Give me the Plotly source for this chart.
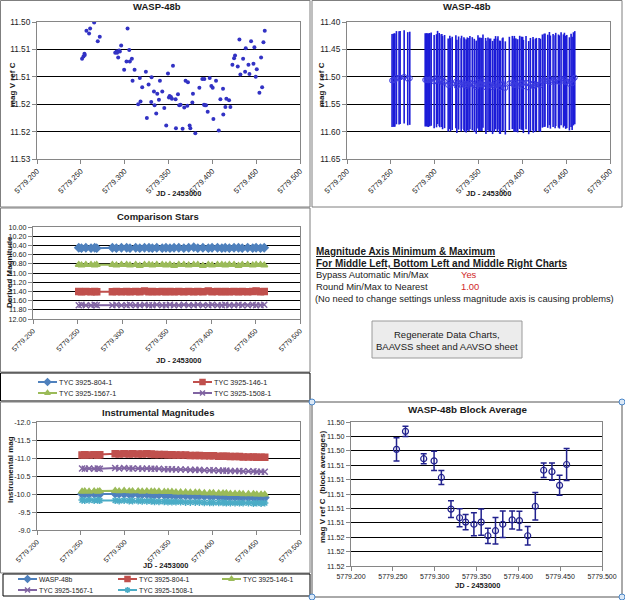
import plotly.graph_objects as go

# ---------------- data ----------------
JD = [5779.2514, 5779.2530, 5779.2541, 5779.2545, 5779.2564, 5779.2594, 5779.2606, 5779.2652, 5779.2693, 5779.2716,
      5779.2892, 5779.2907, 5779.2914, 5779.2926, 5779.2937, 5779.2945, 5779.2960, 5779.2994, 5779.3021, 5779.3033,
      5779.3052, 5779.3059, 5779.3082, 5779.3090, 5779.3113, 5779.3154, 5779.3173, 5779.3181, 5779.3200, 5779.3242,
      5779.3253, 5779.3273, 5779.3303, 5779.3307, 5779.3334, 5779.3341, 5779.3360, 5779.3372, 5779.3391, 5779.3402,
      5779.3429, 5779.3452, 5779.3474, 5779.3494, 5779.3505, 5779.3513, 5779.3528, 5779.3539, 5779.3551, 5779.3581,
      5779.3585, 5779.3608, 5779.3623, 5779.3638, 5779.3661, 5779.3680, 5779.3695, 5779.3715, 5779.3722, 5779.3741,
      5779.3749, 5779.3772, 5779.3779, 5779.3806, 5779.3852, 5779.3886, 5779.3909, 5779.3905, 5779.3916, 5779.3928,
      5779.3947, 5779.3970, 5779.3989, 5779.4004, 5779.4012, 5779.4042, 5779.4073, 5779.4092, 5779.4122, 5779.4125,
      5779.4149, 5779.4160, 5779.4191, 5779.4206, 5779.4229, 5779.4248, 5779.4259, 5779.4290, 5779.4309, 5779.4320,
      5779.4351, 5779.4374, 5779.4381, 5779.4412, 5779.4423, 5779.4442, 5779.4469, 5779.4480, 5779.4495, 5779.4507,
      5779.4537, 5779.4556, 5779.4568, 5779.4583, 5779.4598]
MAG = [11.5067, 11.5063, 11.5058, 11.5060, 11.5016, 11.5021, 11.5012, 11.5001, 11.5035, 11.5027,
       11.5056, 11.5054, 11.5056, 11.5065, 11.5052, 11.5054, 11.5043, 11.5087, 11.5072, 11.5012,
       11.5051, 11.5072, 11.5067, 11.5107, 11.5087, 11.5150, 11.5102, 11.5145, 11.5119, 11.5091,
       11.5175, 11.5114, 11.5146, 11.5101, 11.5127, 11.5152, 11.5167, 11.5131, 11.5142, 11.5107,
       11.5127, 11.5157, 11.5189, 11.5094, 11.5138, 11.5135, 11.5137, 11.5140, 11.5080, 11.5141,
       11.5194, 11.5132, 11.5152, 11.5151, 11.5195, 11.5156, 11.5107, 11.5153, 11.5110, 11.5189,
       11.5194, 11.5147, 11.5131, 11.5203, 11.5120, 11.5104, 11.5104, 11.5151, 11.5152, 11.5152,
       11.5164, 11.5102, 11.5117, 11.5120, 11.5177, 11.5107, 11.5198, 11.5141, 11.5122, 11.5169,
       11.5155, 11.5140, 11.5143, 11.5155, 11.5078, 11.5066, 11.5061, 11.5081, 11.5032, 11.5096,
       11.5067, 11.5091, 11.5048, 11.5078, 11.5095, 11.5035, 11.5076, 11.5046, 11.5100, 11.5086,
       11.5129, 11.5065, 11.5119, 11.5037, 11.5016]
MAG_ERR = 0.085

JD_C = [5779.2514, 5779.2545, 5779.2594, 5779.2652, 5779.2693, 5779.2716,
        5779.2892, 5779.2937, 5779.2994, 5779.3052, 5779.3090,
        5779.3154, 5779.3200, 5779.3253, 5779.3303, 5779.3341,
        5779.3391, 5779.3452, 5779.3494, 5779.3539, 5779.3585,
        5779.3638, 5779.3695, 5779.3749, 5779.3806, 5779.3852,
        5779.3909, 5779.3970, 5779.4012, 5779.4073, 5779.4122,
        5779.4160, 5779.4206, 5779.4259, 5779.4309, 5779.4351,
        5779.4412, 5779.4469, 5779.4507, 5779.4556, 5779.4598]

D_804 = [10.45, 10.46, 10.45, 10.46, 10.45, 10.46,
         10.45, 10.46, 10.45, 10.45, 10.46,
         10.45, 10.46, 10.45, 10.45, 10.46,
         10.45, 10.46, 10.45, 10.46, 10.45,
         10.45, 10.46, 10.45, 10.44, 10.46,
         10.45, 10.46, 10.45, 10.45, 10.46,
         10.45, 10.46, 10.45, 10.45, 10.46,
         10.45, 10.46, 10.45, 10.46, 10.45]
D_146 = [11.40, 11.41, 11.40, 11.41, 11.40, 11.41,
         11.41, 11.40, 11.41, 11.40, 11.41,
         11.40, 11.41, 11.39, 11.41, 11.40,
         11.41, 11.40, 11.41, 11.40, 11.41,
         11.40, 11.41, 11.40, 11.41, 11.40,
         11.41, 11.39, 11.41, 11.40, 11.41,
         11.40, 11.41, 11.40, 11.41, 11.40,
         11.41, 11.40, 11.39, 11.41, 11.40]
D_1567 = [10.82, 10.83, 10.82, 10.82, 10.83, 10.82,
          10.82, 10.83, 10.82, 10.82, 10.83,
          10.82, 10.84, 10.82, 10.82, 10.83,
          10.82, 10.82, 10.83, 10.82, 10.84,
          10.82, 10.82, 10.83, 10.82, 10.82,
          10.84, 10.82, 10.83, 10.82, 10.82,
          10.83, 10.82, 10.82, 10.84, 10.82,
          10.82, 10.83, 10.82, 10.82, 10.83]
D_1508 = [11.70, 11.69, 11.70, 11.70, 11.69, 11.70,
          11.70, 11.69, 11.70, 11.70, 11.69,
          11.70, 11.70, 11.69, 11.70, 11.70,
          11.69, 11.70, 11.70, 11.69, 11.70,
          11.70, 11.69, 11.70, 11.70, 11.69,
          11.70, 11.70, 11.69, 11.70, 11.70,
          11.69, 11.70, 11.70, 11.69, 11.70,
          11.70, 11.69, 11.70, 11.70, 11.69]

I_WASP = [-10.00, -10.01, -10.00, -10.01, -10.01, -10.00,
          -10.01, -10.01, -10.00, -10.00, -10.00,
          -9.99, -9.99, -9.99, -9.98, -9.98,
          -9.98, -9.97, -9.97, -9.97, -9.96,
          -9.96, -9.96, -9.95, -9.95, -9.95,
          -9.94, -9.94, -9.94, -9.93, -9.93,
          -9.93, -9.92, -9.92, -9.92, -9.91,
          -9.91, -9.91, -9.90, -9.90, -9.90]
I_804 = [-11.08, -11.09, -11.08, -11.09, -11.08, -11.09,
         -11.12, -11.11, -11.12, -11.11, -11.12,
         -11.11, -11.11, -11.12, -11.11, -11.10,
         -11.10, -11.10, -11.09, -11.09, -11.08,
         -11.08, -11.08, -11.07, -11.07, -11.07,
         -11.06, -11.06, -11.06, -11.05, -11.05,
         -11.05, -11.04, -11.04, -11.04, -11.03,
         -11.03, -11.03, -11.02, -11.02, -11.02]
I_146 = [-10.07, -10.08, -10.07, -10.08, -10.07, -10.08,
         -10.09, -10.08, -10.09, -10.08, -10.08,
         -10.08, -10.07, -10.08, -10.07, -10.07,
         -10.07, -10.06, -10.06, -10.06, -10.05,
         -10.05, -10.05, -10.04, -10.04, -10.04,
         -10.03, -10.03, -10.03, -10.02, -10.02,
         -10.02, -10.01, -10.01, -10.01, -10.00,
         -10.00, -10.00, -9.99, -9.99, -9.99]
I_1567 = [-10.71, -10.70, -10.71, -10.70, -10.71, -10.70,
          -10.72, -10.71, -10.72, -10.71, -10.71,
          -10.71, -10.70, -10.71, -10.70, -10.70,
          -10.70, -10.69, -10.69, -10.69, -10.68,
          -10.68, -10.68, -10.67, -10.67, -10.67,
          -10.66, -10.66, -10.66, -10.65, -10.65,
          -10.65, -10.64, -10.64, -10.64, -10.63,
          -10.63, -10.63, -10.62, -10.62, -10.62]
I_1508 = [-9.83, -9.82, -9.83, -9.82, -9.83, -9.82,
          -9.82, -9.81, -9.82, -9.81, -9.81,
          -9.81, -9.80, -9.80, -9.80, -9.79,
          -9.79, -9.79, -9.78, -9.78, -9.78,
          -9.78, -9.77, -9.77, -9.77, -9.77,
          -9.76, -9.76, -9.76, -9.76, -9.76,
          -9.75, -9.75, -9.75, -9.75, -9.75,
          -9.75, -9.74, -9.75, -9.74, -9.75]

BLK_JD = [5779.2544, 5779.2651, 5779.2869, 5779.2993, 5779.3080, 5779.3195, 5779.3298, 5779.3370,
          5779.3469, 5779.3556, 5779.3636, 5779.3727, 5779.3814, 5779.3926, 5779.4013, 5779.4112,
          5779.4203, 5779.4303, 5779.4402, 5779.4493, 5779.4577]
BLK_MAG = [11.5038, 11.5013, 11.5051, 11.5054, 11.5077, 11.5121, 11.5133, 11.5139,
           11.5142, 11.5139, 11.5158, 11.5151, 11.5142, 11.5136, 11.5137, 11.5158,
           11.5117, 11.5067, 11.5069, 11.5088, 11.5059]
BLK_ERR = [0.00162, 0.00072, 0.00070, 0.00134, 0.00097, 0.00116, 0.00125, 0.00106,
           0.00160, 0.00183, 0.00106, 0.00185, 0.00183, 0.00125, 0.00130, 0.00127,
           0.00190, 0.00102, 0.00120, 0.00139, 0.00222]

X_TICKS = [5779.20, 5779.25, 5779.30, 5779.35, 5779.40, 5779.45, 5779.50]
X_LABELS = ['5779.200', '5779.250', '5779.300', '5779.350', '5779.400', '5779.450', '5779.500']
Y1_TICKS = [11.500, 11.505, 11.510, 11.515, 11.520, 11.525]
Y1_LABELS = ['11.50', '11.51', '11.51', '11.52', '11.52', '11.53']
Y2_TICKS = [11.40, 11.45, 11.50, 11.55, 11.60, 11.65]
Y2_LABELS = ['11.40', '11.45', '11.50', '11.55', '11.60', '11.65']
Y3_TICKS = [10.0, 10.2, 10.4, 10.6, 10.8, 11.0, 11.2, 11.4, 11.6, 11.8, 12.0]
Y3_LABELS = ['10.00', '10.20', '10.40', '10.60', '10.80', '11.00', '11.20', '11.40', '11.60', '11.80', '12.00']
Y4_TICKS = [-12.0, -11.5, -11.0, -10.5, -10.0, -9.5, -9.0]
Y4_LABELS = ['-12.0', '-11.5', '-11.0', '-10.5', '-10.0', '-9.5', '-9.0']
Y5_TICKS = [11.500, 11.502, 11.504, 11.506, 11.508, 11.510, 11.512, 11.514, 11.516, 11.518, 11.520]
Y5_LABELS = ['11.50', '11.50', '11.50', '11.51', '11.51', '11.51', '11.51', '11.51', '11.52', '11.52', '11.52']

# ---------------- styling ----------------
W, H = 625, 600
FONT = "Liberation Sans, Arial, sans-serif"
AXC = '#868686'
TXT = '#1a1a1a'
C_BLUE, C_RED, C_GREEN, C_PURPLE, C_AQUA = '#4F81BD', '#C0504D', '#9BBB59', '#8064A2', '#4BACC6'


def fx(p):
    return p / W


def fy(p):
    return 1 - p / H


def xax(x0, x1, anchor, angle=-45, fs=7.5):
    return dict(domain=[fx(x0), fx(x1)], anchor=anchor, range=[5779.2, 5779.5], automargin=False,
                tickmode='array', tickvals=X_TICKS, ticktext=X_LABELS, tickangle=angle,
                showgrid=False, zeroline=False, showline=True, mirror=True, linecolor=AXC, linewidth=1,
                ticks='outside', ticklen=4, tickcolor=AXC,
                tickfont=dict(family=FONT, size=fs, color=TXT))


def yax(y0, y1, anchor, rng, tv, tt, fs=8):
    return dict(domain=[fy(y1), fy(y0)], anchor=anchor, range=rng, automargin=False,
                tickmode='array', tickvals=tv, ticktext=tt,
                showgrid=True, gridcolor='#000', gridwidth=1, zeroline=False,
                showline=True, mirror=True, linecolor=AXC, linewidth=1,
                ticks='outside', ticklen=4, tickcolor=AXC,
                tickfont=dict(family=FONT, size=fs, color=TXT))


fig = go.Figure()

# chart 1: WASP-48b scatter
fig.add_trace(go.Scatter(x=JD, y=MAG, mode='markers', xaxis='x', yaxis='y',
                         marker=dict(symbol='circle', size=4, color='#3232c4'), showlegend=False))
# chart 2: with error bars
fig.add_trace(go.Scatter(x=JD, y=MAG, mode='markers', xaxis='x2', yaxis='y2',
                         marker=dict(symbol='circle-open', size=5, color='#3a3ae0', line=dict(width=1)),
                         error_y=dict(type='constant', value=MAG_ERR, color='#1c1cd8', thickness=1.6, width=0),
                         showlegend=False))
# chart 3: comparison stars
for ys, col, sym in [(D_804, C_BLUE, 'diamond'), (D_146, C_RED, 'square'),
                     (D_1567, C_GREEN, 'triangle-up'), (D_1508, C_PURPLE, 'x-thin')]:
    fig.add_trace(go.Scatter(x=JD_C, y=ys, mode='lines+markers', xaxis='x3', yaxis='y3',
                             line=dict(color=col, width=2),
                             marker=dict(symbol=sym, size=6, color=col, line=dict(color=col, width=1.5)),
                             showlegend=False))
# chart 4: instrumental magnitudes
for ys, col, sym in [(I_WASP, C_BLUE, 'diamond'), (I_804, C_RED, 'square'), (I_146, C_GREEN, 'triangle-up'),
                     (I_1567, C_PURPLE, 'x-thin'), (I_1508, C_AQUA, 'asterisk')]:
    fig.add_trace(go.Scatter(x=JD_C, y=ys, mode='lines+markers', xaxis='x4', yaxis='y4',
                             line=dict(color=col, width=2),
                             marker=dict(symbol=sym, size=6, color=col, line=dict(color=col, width=1.5)),
                             showlegend=False))
# chart 5: block averages
fig.add_trace(go.Scatter(x=BLK_JD, y=BLK_MAG, mode='markers', xaxis='x5', yaxis='y5',
                         marker=dict(symbol='circle-open', size=6, color='#22228e', line=dict(width=1.2)),
                         error_y=dict(type='data', array=BLK_ERR, color='#22228e', thickness=1.5, width=3),
                         showlegend=False))

# legend keys (drawn on a pixel overlay axis)
LEG1 = [('TYC 3925-804-1', C_BLUE, 'diamond', 38, 382), ('TYC 3925-146-1', C_RED, 'square', 193, 382),
        ('TYC 3925-1567-1', C_GREEN, 'triangle-up', 38, 393), ('TYC 3925-1508-1', C_PURPLE, 'x-thin', 193, 393)]
LEG2 = [('WASP-48b', C_BLUE, 'diamond', 18, 579), ('TYC 3925-804-1', C_RED, 'square', 118, 579),
        ('TYC 3925-146-1', C_GREEN, 'triangle-up', 222, 579), ('TYC 3925-1567-1', C_PURPLE, 'x-thin', 18, 590),
        ('TYC 3925-1508-1', C_AQUA, 'asterisk', 118, 590)]
annotations = []
for items, fs in [(LEG1, 7.2), (LEG2, 6.8)]:
    for name, col, sym, lx, ly in items:
        fig.add_trace(go.Scatter(x=[lx, lx + 19], y=[ly, ly], mode='lines', xaxis='x6', yaxis='y6',
                                 line=dict(color=col, width=2), showlegend=False, hoverinfo='skip'))
        fig.add_trace(go.Scatter(x=[lx + 9.5], y=[ly], mode='markers', xaxis='x6', yaxis='y6',
                                 marker=dict(symbol=sym, size=5, color=col, line=dict(color=col, width=1.5)),
                                 showlegend=False, hoverinfo='skip'))
        annotations.append(dict(x=fx(lx + 19), y=fy(ly), xref='paper', yref='paper', text=name, showarrow=False,
                                xanchor='left', yanchor='middle', font=dict(family=FONT, size=fs, color=TXT)))


def note(x, y, text, size=9, bold=False, angle=0, xanchor='center', color=TXT):
    t = '<b>' + text + '</b>' if bold else text
    annotations.append(dict(x=fx(x), y=fy(y), xref='paper', yref='paper', text=t, showarrow=False,
                            xanchor=xanchor, yanchor='middle', textangle=angle,
                            font=dict(family=FONT, size=size, color=color)))


# titles
note(157, 6, 'WASP-48b', 9.5, True)
note(467, 6, 'WASP-48b', 9.5, True)
note(158, 216, 'Comparison Stars', 9.5, True)
note(158, 412, 'Instrumental Magnitudes', 9.5, True)
note(468, 409, 'WASP-48b Block Average', 9.8, True)
# axis titles
note(178, 193, 'JD - 2453000', 7.5, True)
note(488, 193, 'JD - 2453000', 7.5, True)
note(178, 360, 'JD - 2453000', 7.5, True)
note(165, 565, 'JD - 2453000', 7.5, True)
note(477, 585, 'JD - 2453000', 7.5, True)
note(12, 84, 'mag V ref C', 8, True, -90)
note(322, 85, 'mag V ref C', 8, True, -90)
note(9, 272, 'Derived Magnitude', 8, True, -90)
note(10, 470, 'Instrumental mag', 8, True, -90)
note(322, 487, 'mag V ref C  (block averages)', 8, True, -90)

# settings panel
note(314, 252, '<u>Magnitude Axis Minimum &amp; Maximum</u>', 10, True, xanchor='left')
note(314, 263, '<u>For Middle Left, Bottom Left and Middle Right Charts</u>', 10, True, xanchor='left')
note(314, 275, 'Bypass Automatic Min/Max', 9.4, xanchor='left')
note(459, 275, 'Yes', 9.4, xanchor='left', color='#d02828')
note(314, 287, 'Round Min/Max to Nearest', 9.4, xanchor='left')
note(459, 287, '1.00', 9.4, xanchor='left', color='#d02828')
note(313, 299, '(No need to change settings unless magnitude axis is causing problems)', 9.3, xanchor='left')
note(447, 334, 'Regenerate Data Charts,', 9.5)
note(447, 346, 'BAAVSS sheet and AAVSO sheet', 9.5)

shapes = []


def rect(x0, y0, x1, y1, color='#7f7f7f', width=1, fill=None):
    shapes.append(dict(type='rect', xref='paper', yref='paper', x0=fx(x0), x1=fx(x1), y0=fy(y1), y1=fy(y0),
                       line=dict(color=color, width=width), fillcolor=fill, layer='below'))


rect(0.5, 0.5, 310, 207)
rect(312, 0.5, 622, 207)
rect(0.5, 208, 310, 372)
rect(0.5, 373, 310, 401, '#000')
rect(0.5, 402, 310, 573)
rect(3, 574, 310, 596, '#000')
rect(312, 402, 622, 597, '#555')
rect(372, 321, 522, 358, '#9a9a9a', 1, '#ececec')
for hx, hy in [(312, 402), (622, 402), (312, 597), (622, 597)]:
    shapes.append(dict(type='circle', xref='paper', yref='paper', x0=fx(hx - 3), x1=fx(hx + 3),
                       y0=fy(hy + 3), y1=fy(hy - 3), line=dict(color='#4a86c8', width=1), fillcolor='#dbe8f6'))

fig.update_layout(
    width=W, height=H, margin=dict(l=0, r=0, t=0, b=0, pad=0, autoexpand=False),
    paper_bgcolor='white', plot_bgcolor='rgba(0,0,0,0)', showlegend=False,
    xaxis=xax(37, 300, 'y'), yaxis=yax(22, 159, 'x', [11.525, 11.500], Y1_TICKS, Y1_LABELS, 8.3),
    xaxis2=xax(347, 610, 'y2'), yaxis2=yax(22, 159, 'x2', [11.65, 11.40], Y2_TICKS, Y2_LABELS, 8.3),
    xaxis3=xax(33, 300, 'y3', fs=7), yaxis3=yax(227, 319, 'x3', [12.0, 10.0], Y3_TICKS, Y3_LABELS, 7.2),
    xaxis4=xax(37, 300, 'y4', fs=7), yaxis4=yax(422, 530, 'x4', [-9.0, -12.0], Y4_TICKS, Y4_LABELS, 7.2),
    xaxis5=xax(351, 602, 'y5', 0, fs=7), yaxis5=yax(422, 566, 'x5', [11.520, 11.500], Y5_TICKS, Y5_LABELS, 7.2),
    xaxis6=dict(domain=[0, 1], range=[0, W], visible=False, anchor='y6', fixedrange=True, automargin=False),
    yaxis6=dict(domain=[0, 1], range=[H, 0], visible=False, anchor='x6', fixedrange=True, automargin=False),
    annotations=annotations, shapes=shapes,
    font=dict(family=FONT),
)

fig.write_html("out.html", config={'displayModeBar': False},
               post_script="document.body.style.margin='0';document.body.style.overflow='hidden';")
